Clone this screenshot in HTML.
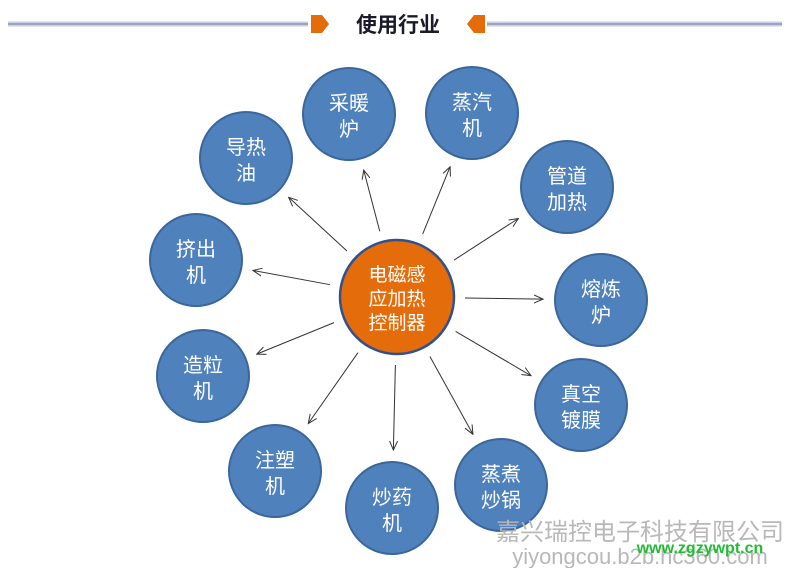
<!DOCTYPE html>
<html><head><meta charset="utf-8"><style>
html,body{margin:0;padding:0;background:#fff;}
svg{display:block;}
text{font-family:"Liberation Sans","Noto Sans CJK SC",sans-serif;}
</style></head><body>
<svg id="s" width="790" height="568" viewBox="0 0 790 568" xmlns="http://www.w3.org/2000/svg">
<defs><marker id="a" markerWidth="10" markerHeight="10" refX="9" refY="5" orient="auto" markerUnits="userSpaceOnUse"><path d="M0,1 L9,5 L0,9" fill="none" stroke="#333" stroke-width="1"/></marker></defs>
<line x1="8" y1="24" x2="308" y2="24" stroke="#c9cfe0" stroke-width="5"/>
<line x1="8" y1="24" x2="308" y2="24" stroke="#8a95b8" stroke-width="1.5"/>
<line x1="320" y1="24" x2="780" y2="24" stroke="#c9cfe0" stroke-width="5" transform="translate(0,0)" opacity="0"/>
<line x1="487" y1="24" x2="782" y2="24" stroke="#c9cfe0" stroke-width="5"/>
<line x1="487" y1="24" x2="782" y2="24" stroke="#8a95b8" stroke-width="1.5"/>
<path d="M311,15 L322,15 L329,24 L322,33 L311,33 Z" fill="#e46c0a"/>
<path d="M485,15 L474,15 L467,24 L474,33 L485,33 Z" fill="#e46c0a"/>
<text x="398" y="32" font-size="21" font-weight="bold" fill="#1a1a2a" text-anchor="middle">使用行业</text>
<g id="g"></g>
<circle cx="397" cy="297" r="57" fill="#e46c0a" stroke="#2f528f" stroke-width="2.5"/>
<text x="397" y="281" font-size="19" fill="#fff" text-anchor="middle">电磁感</text>
<text x="397" y="305" font-size="19" fill="#fff" text-anchor="middle">应加热</text>
<text x="397" y="329" font-size="19" fill="#fff" text-anchor="middle">控制器</text>
<text x="640" y="540" font-size="24" fill="#b8b8b8" text-anchor="middle">嘉兴瑞控电子科技有限公司</text>
<text x="640" y="564" font-size="22" fill="#b8b8b8" text-anchor="middle">yiyongcou.b2b.hc360.com</text>
<text x="700" y="553" font-size="16" font-weight="bold" fill="#22bb33" text-anchor="middle" font-family="Liberation Mono,monospace">www.zgzywpt.cn</text>
</svg>
<script>
var n=[[349,114,"采暖","炉"],[472,113,"蒸汽","机"],[246,158,"导热","油"],[567,187,"管道","加热"],[196,260,"挤出","机"],[601,300,"熔炼","炉"],[203,376,"造粒","机"],[581,405,"真空","镀膜"],[275,471,"注塑","机"],[392,508,"炒药","机"],[501,485,"蒸煮","炒锅"]];
var g=document.getElementById('g'),h='',cx=397,cy=297;
n.forEach(function(p){var dx=p[0]-cx,dy=p[1]-cy,d=Math.sqrt(dx*dx+dy*dy),ux=dx/d,uy=dy/d;
h+='<line x1="'+(cx+ux*68)+'" y1="'+(cy+uy*68)+'" x2="'+(p[0]-ux*58)+'" y2="'+(p[1]-uy*58)+'" stroke="#333" stroke-width="1" marker-end="url(#a)"/>';
h+='<circle cx="'+p[0]+'" cy="'+p[1]+'" r="46" fill="#4f81bd" stroke="#3a669a" stroke-width="2"/>';
h+='<text x="'+p[0]+'" y="'+(p[1]-4)+'" font-size="20" fill="#fff" text-anchor="middle">'+p[2]+'</text>';
h+='<text x="'+p[0]+'" y="'+(p[1]+22)+'" font-size="20" fill="#fff" text-anchor="middle">'+p[3]+'</text>';});
g.innerHTML=h;
</script>
</body></html>
